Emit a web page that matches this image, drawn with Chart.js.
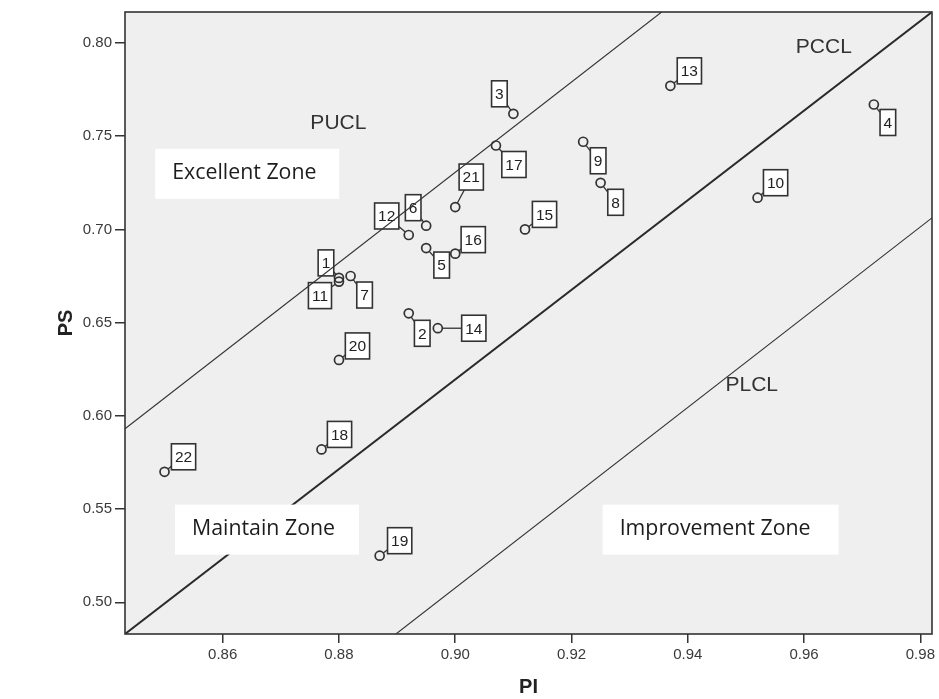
<!DOCTYPE html>
<html><head><meta charset="utf-8">
<script src="https://cdn.jsdelivr.net/npm/chart.js@4.4.0/dist/chart.umd.min.js"></script>
<style>html,body{margin:0;padding:0;background:#fff;}</style>
</head><body>
<canvas id="c" width="939" height="699"></canvas>
<script>
// ---- data ----
const pointIds = ['1','2','3','4','5','6','7','8','9','10','11','12','13','14','15','16','17','18','19','20','21','22'];
const piValues = [0.880,0.892,0.910,0.972,0.895,0.895,0.882,0.925,0.922,0.952,0.880,0.892,0.937,0.897,0.912,0.900,0.907,0.877,0.887,0.880,0.900,0.850];
const psValues = [0.674,0.655,0.762,0.767,0.690,0.702,0.675,0.725,0.747,0.717,0.672,0.697,0.777,0.647,0.700,0.687,0.745,0.582,0.525,0.630,0.712,0.570];
const xTicks = [0.86,0.88,0.90,0.92,0.94,0.96,0.98];
const yTicks = [0.50,0.55,0.60,0.65,0.70,0.75,0.80];
const puclX = [0.8432,0.9355], puclY = [0.5931,0.8166];
const pcclX = [0.8432,0.9820], pcclY = [0.4830,0.8166];
const plclX = [0.8898,0.9820], plclY = [0.4830,0.7062];
const lineNames = ['PUCL','PCCL','PLCL'];
const zoneNames = ['Excellent Zone','Maintain Zone','Improvement Zone'];

const FONT = '"Liberation Sans", Arial, sans-serif';
const pts = piValues.map((v,i)=>({x:v,y:psValues[i]}));
const seg = (xs,ys)=>xs.map((v,i)=>({x:v,y:ys[i]}));

// label placement (pixel offsets of number boxes from their point)
const labelOffsets = {
 '1':[-13,-15],'2':[13.5,20],'3':[-14,-20],'4':[14,18],'5':[15.5,17],'6':[-13,-18],'7':[14,19],
 '8':[15,19.5],'9':[15,19],'10':[18,-15],'11':[-19,14],'12':[-22,-19],'13':[19,-15],'14':[36,0],
 '15':[19.5,-15],'16':[18,-14],'17':[18,19],'18':[18,-15],'19':[20,-15],'20':[18.5,-14],'21':[16,-30],'22':[19,-15]
};
// text annotation anchors (data coords)
const lineLabelPos = [[0.8799,0.7572],[0.9634,0.7977],[0.9510,0.6164]];
// zone boxes: left/top in data coords, width/height px
const zoneBoxes = [
 {x:0.8484,y:0.7432,w:184,h:50},
 {x:0.8518,y:0.5524,w:184,h:50},
 {x:0.92535,y:0.5524,w:236,h:50}
];

const decor = {
 id:'decor',
 beforeDraw(chart){
   const {ctx, chartArea:a} = chart;
   ctx.save(); ctx.fillStyle='#efefef'; ctx.fillRect(a.left,a.top,a.right-a.left,a.bottom-a.top); ctx.restore();
 },
 beforeDatasetsDraw(chart){
   const {ctx} = chart;
   const meta = chart.getDatasetMeta(3);
   ctx.save();
   ctx.font = '15.5px ' + FONT;
   ctx.textAlign='center'; ctx.textBaseline='middle';
   meta.data.forEach((el,i)=>{
     const id = pointIds[i];
     const [ox,oy] = labelOffsets[id];
     const px=el.x, py=el.y, cx=px+ox, cy=py+oy;
     const tw = ctx.measureText(id).width;
     const hw=(tw+7)/2, hh=13;
     const len=Math.hypot(ox,oy), ux=ox/len, uy=oy/len;
     const t=Math.min(ux?hw/Math.abs(ux):1e9, uy?hh/Math.abs(uy):1e9);
     ctx.strokeStyle='#333'; ctx.lineWidth=1.3;
     if (len - t > 4.5){
       ctx.beginPath(); ctx.moveTo(px+ux*4.5,py+uy*4.5); ctx.lineTo(cx-ux*t,cy-uy*t); ctx.stroke();
     }
     ctx.fillStyle='#fff';
     ctx.fillRect(cx-hw,cy-hh,hw*2,hh*2);
     ctx.lineWidth=1.6; ctx.strokeRect(cx-hw,cy-hh,hw*2,hh*2);
     ctx.fillStyle='#222'; ctx.fillText(id,cx,cy+1);
   });
   ctx.restore();
 },
 afterDatasetsDraw(chart){
   const {ctx, scales:{x,y}} = chart;
   ctx.save();
   ctx.font = '21px ' + FONT; ctx.fillStyle='#333'; ctx.textAlign='center'; ctx.textBaseline='middle';
   lineNames.forEach((n,i)=>ctx.fillText(n, x.getPixelForValue(lineLabelPos[i][0]), y.getPixelForValue(lineLabelPos[i][1])));
   const zf = '"Open Sans", "Noto Sans", sans-serif';
   ctx.font = '20px ' + zf;
   const size = 20*191/ctx.measureText(zoneNames[2]).width;
   ctx.font = size.toFixed(2)+'px ' + zf;
   ctx.textAlign='left';
   zoneBoxes.forEach((b,i)=>{
     const bx=x.getPixelForValue(b.x), by=y.getPixelForValue(b.y);
     ctx.fillStyle='#ffffff'; ctx.fillRect(bx,by,b.w,b.h);
     ctx.fillStyle='#1c1c1c'; ctx.fillText(zoneNames[i], bx+17, by+b.h/2-1);
   });
   ctx.restore();
 },
 afterDraw(chart){
   const {ctx, chartArea:a} = chart;
   ctx.save(); ctx.strokeStyle='#333'; ctx.lineWidth=1.6;
   ctx.strokeRect(a.left,a.top,a.right-a.left,a.bottom-a.top); ctx.restore();
 }
};

const tickFont = {family:FONT, size:15};
new Chart(document.getElementById('c'), {
 type:'scatter',
 data:{datasets:[
   {label:'PUCL', data:seg(puclX,puclY), showLine:true, pointRadius:0, borderColor:'#333', borderWidth:1.1, fill:false},
   {label:'PCCL', data:seg(pcclX,pcclY), showLine:true, pointRadius:0, borderColor:'#2a2a2a', borderWidth:2, fill:false},
   {label:'PLCL', data:seg(plclX,plclY), showLine:true, pointRadius:0, borderColor:'#333', borderWidth:1.1, fill:false},
   {label:'Points', data:pts, pointRadius:4.5, pointBorderWidth:1.7, pointBorderColor:'#333', pointBackgroundColor:'rgba(0,0,0,0)', pointStyle:'circle'}
 ]},
 options:{
   responsive:false, animation:false, devicePixelRatio:1,
   layout:{padding:{top:12,right:7,left:0,bottom:0}},
   plugins:{legend:{display:false}, tooltip:{enabled:false}},
   scales:{
     x:{type:'linear', min:0.8432, max:0.982,
        afterBuildTicks:s=>{s.ticks = xTicks.map(v=>({value:v}));},
        afterFit:s=>{s.height=65;},
        grid:{drawOnChartArea:false, drawTicks:true, tickLength:9, color:'#333', lineWidth:1.5},
        border:{display:false},
        ticks:{font:tickFont, color:'#3a3a3a', padding:3, maxRotation:0, autoSkip:false, callback:v=>Number(v).toFixed(2)},
        title:{display:true, text:'PI', color:'#222', font:{family:FONT, size:20, weight:'bold', lineHeight:1.2}, padding:{top:0,bottom:0}}
     },
     y:{type:'linear', min:0.483, max:0.8166,
        afterBuildTicks:s=>{s.ticks = yTicks.map(v=>({value:v}));},
        afterFit:s=>{s.width=125;},
        grid:{drawOnChartArea:false, drawTicks:true, tickLength:10, color:'#333', lineWidth:1.5},
        border:{display:false},
        ticks:{font:tickFont, color:'#3a3a3a', padding:3, autoSkip:false, callback:v=>Number(v).toFixed(2)},
        title:{display:true, text:'PS', color:'#222', font:{family:FONT, size:20, weight:'bold', lineHeight:1.2}, padding:{top:54,bottom:0}}
     }
   }
 },
 plugins:[decor]
});
</script>
</body></html>
